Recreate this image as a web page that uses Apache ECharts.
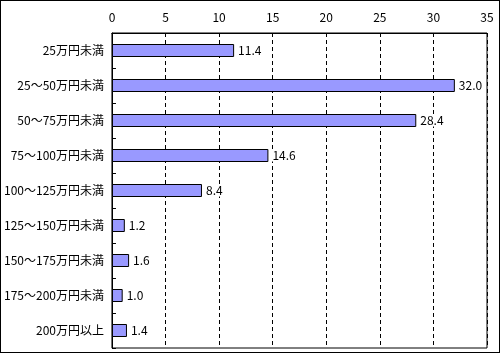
<!DOCTYPE html>
<html><head><meta charset="utf-8">
<script src="https://cdn.jsdelivr.net/npm/echarts@6/dist/echarts.min.js"></script>
<style>
html,body{margin:0;padding:0;background:#fff;}
#c{width:500px;height:353px;box-sizing:border-box;border:1px solid #000;}
</style></head><body>
<div id="c"></div>
<script>
const categories = ['25万円未満','25～50万円未満','50～75万円未満','75～100万円未満','100～125万円未満','125～150万円未満','150～175万円未満','175～200万円未満','200万円以上'];
const values = [11.4, 32.0, 28.4, 14.6, 8.4, 1.2, 1.6, 1.0, 1.4];
const axisMin = 0, axisMax = 35, axisStep = 5;

const font = '"Noto Sans CJK JP", "Noto Sans", sans-serif';
const chart = echarts.init(document.getElementById('c'), null, {renderer:'canvas'});
chart.setOption({
  animation:false,
  backgroundColor:'#fff',
  grid:{left:110, top:32, right:12, bottom:4, show:true, borderColor:'#000', borderWidth:1, backgroundColor:'#fff'},
  xAxis:{type:'value', position:'top', min:axisMin, max:axisMax, interval:axisStep,
    axisLine:{show:true, lineStyle:{color:'#000', width:1}},
    axisTick:{show:false},
    axisLabel:{color:'#000', fontSize:12, fontFamily:font, margin:10},
    splitLine:{show:true, lineStyle:{color:'#000', type:[4,3], width:1}}
  },
  yAxis:{type:'category', inverse:true, data:categories,
    axisLine:{show:true, lineStyle:{color:'#000', width:1}},
    axisTick:{show:true, inside:true, length:4, lineStyle:{color:'#000'}},
    axisLabel:{color:'#000', fontSize:12, fontFamily:font, margin:8}
  },
  series:[{type:'bar', data:values, barWidth:13,
    itemStyle:{color:'#9999FF', borderColor:'#000', borderWidth:1},
    label:{show:true, position:'right', distance:3, color:'#000', fontSize:12, fontFamily:font,
      backgroundColor:'#fff', padding:[0,1],
      formatter:p=>p.value.toFixed(1)}
  }]
});
</script></body></html>
